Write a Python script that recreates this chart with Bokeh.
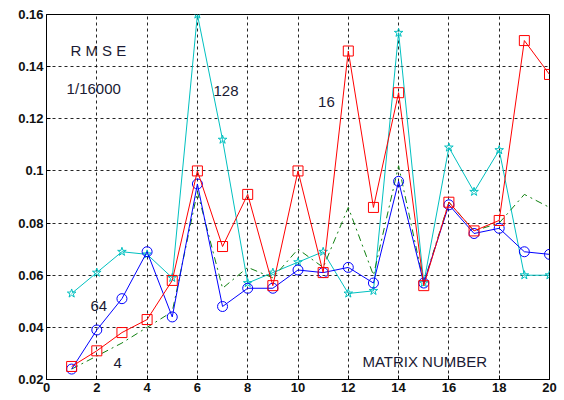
from bokeh.plotting import figure
from bokeh.models import Range1d, FixedTicker, Label
from bokeh.embed import file_html
from bokeh.resources import INLINE

matrix = list(range(1, 21))
rmse_16 = [0.025, 0.031, 0.038, 0.043, 0.058, 0.100, 0.071, 0.091, 0.056, 0.100,
           0.061, 0.146, 0.086, 0.130, 0.056, 0.088, 0.077, 0.081, 0.150, 0.137]
rmse_64 = [0.024, 0.039, 0.051, 0.069, 0.044, 0.095, 0.048, 0.055, 0.055, 0.062,
           0.061, 0.063, 0.057, 0.096, 0.057, 0.087, 0.076, 0.078, 0.069, 0.068]
rmse_128 = [0.053, 0.061, 0.069, 0.068, 0.059, 0.160, 0.112, 0.057, 0.061, 0.065,
            0.069, 0.053, 0.054, 0.153, 0.057, 0.109, 0.092, 0.108, 0.060, 0.060]
rmse_4 = [0.024, 0.029, 0.034, 0.040, 0.046, 0.092, 0.055, 0.063, 0.059, 0.070,
          0.063, 0.086, 0.060, 0.102, 0.057, 0.088, 0.077, 0.080, 0.091, 0.086]

x_ticks = list(range(0, 21, 2))
y_ticks = [0.02, 0.04, 0.06, 0.08, 0.10, 0.12, 0.14, 0.16]

p = figure(width=564, height=400, output_backend="svg", toolbar_location=None,
           x_range=Range1d(0, 20), y_range=Range1d(0.02, 0.16),
           min_border_left=46, min_border_right=15, min_border_top=14, min_border_bottom=21)
p.background_fill_color = "white"
p.border_fill_color = "white"
p.outline_line_color = "black"
p.outline_line_width = 1

for ax in (p.xaxis[0], p.yaxis[0]):
    ax.major_tick_in = 4
    ax.major_tick_out = 0
    ax.minor_tick_in = 0
    ax.minor_tick_out = 0
    ax.axis_line_color = "black"
    ax.major_label_text_font = "Liberation Sans"
    ax.major_label_text_font_size = "13px"
    ax.major_label_text_font_style = "bold"
    ax.major_label_text_color = "#111111"
    ax.major_label_standoff = 3
p.xaxis.ticker = FixedTicker(ticks=x_ticks)
p.yaxis.ticker = FixedTicker(ticks=y_ticks)
p.yaxis.major_label_overrides = {0.1: "0.1"}

p.grid.grid_line_color = "black"
p.grid.grid_line_dash = "3 3"
p.grid.grid_line_width = 1
p.grid.grid_line_alpha = 0.85

# 128 (cyan stars)
p.line(matrix, rmse_128, line_color="#00c0c0", line_width=1)
p.scatter(matrix, rmse_128, marker="star", size=9, line_color="#00c0c0", fill_color=None)
# 4 (green dash-dot)
p.line(matrix, rmse_4, line_color="#108010", line_width=1, line_dash="7 4 2 4")
# 64 (blue circles)
p.line(matrix, rmse_64, line_color="#0000ff", line_width=1)
p.scatter(matrix, rmse_64, marker="circle", size=10, line_color="#0000ff", fill_color=None)
# 16 (red squares)
p.line(matrix, rmse_16, line_color="#ff0000", line_width=1)
p.scatter(matrix, rmse_16, marker="square", size=10, line_color="#ff0000", fill_color=None)

labels = [("R M S E", 0.95, 0.1462), ("1/16000", 0.8, 0.1316), ("128", 6.64, 0.1308),
          ("16", 10.8, 0.1266), ("64", 1.75, 0.0483), ("4", 2.66, 0.0264),
          ("MATRIX NUMBER", 12.56, 0.0268)]
for txt, lx, ly in labels:
    p.add_layout(Label(x=lx, y=ly, text=txt, text_font="Liberation Sans",
                       text_font_size="15px", text_baseline="middle", text_align="left",
                       text_color="#1a1a33"))

open("out.html", "w").write(file_html(p, INLINE))
